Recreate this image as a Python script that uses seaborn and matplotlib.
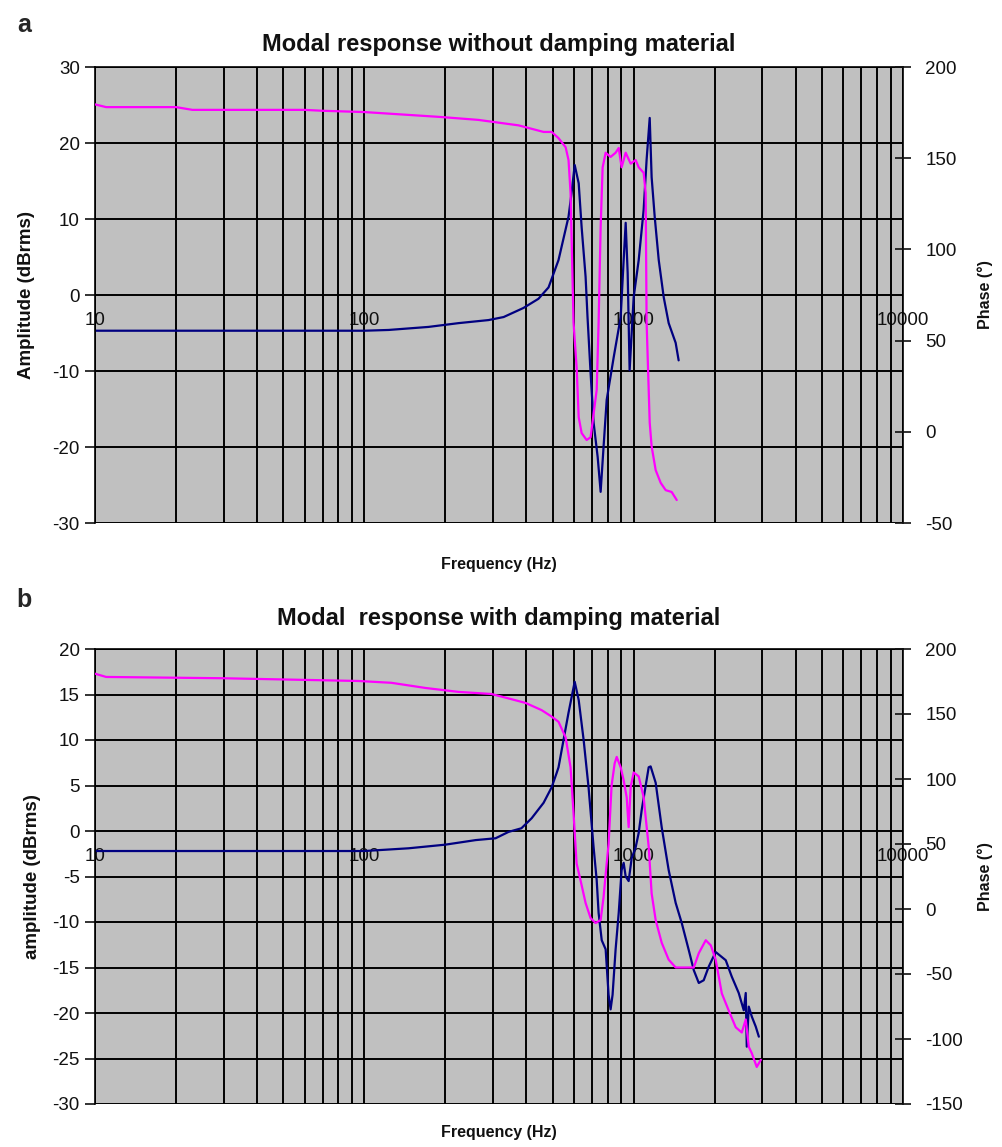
import matplotlib
matplotlib.use("Agg")
import matplotlib.pyplot as plt
import seaborn as sns
from matplotlib.ticker import LogLocator, FixedLocator, NullFormatter

sns.set_style("white")
plt.rcParams["font.family"] = ["Liberation Sans", "DejaVu Sans"]
plt.rcParams["axes.unicode_minus"] = False

# ---------------- panel a: without damping material ----------------
a_amp_freq = [10, 20, 50, 100, 123, 173, 224, 289, 329, 390, 443, 483, 526, 573, 588,
              604, 625, 641, 663, 674, 692, 710, 735, 754, 773, 794, 843, 895, 918,
              934, 950, 966, 1000, 1044, 1089, 1117, 1147, 1166, 1197, 1239, 1293,
              1349, 1432, 1469]
a_amp = [-4.7, -4.7, -4.7, -4.7, -4.6, -4.2, -3.7, -3.3, -2.9, -1.7, -0.5, 1.0, 4.6,
         10.3, 13.4, 17.1, 14.7, 8.9, 2.4, -2.9, -10.3, -16.8, -21.3, -25.9, -20.0,
         -13.8, -8.2, -2.9, 4.6, 9.5, 2.9, -9.9, -0.3, 4.6, 11.2, 17.8, 23.3, 15.5,
         10.3, 4.6, -0.3, -3.7, -6.3, -8.6]

a_ph_freq = [10, 11, 20, 23, 60, 70, 100, 192, 265, 374, 463, 496, 526, 559, 573, 583,
             598, 614, 625, 641, 669, 692, 729, 741, 754, 767, 787, 821, 857, 880, 902,
             934, 975, 1017, 1044, 1089, 1108, 1117, 1147, 1166, 1207, 1260, 1315,
             1384, 1445]
a_phase = [179.5, 178.0, 178.0, 176.5, 176.5, 176.0, 175.3, 172.6, 171.0, 168.0,
           164.4, 164.4, 161.0, 156.0, 149.0, 131.0, 60.0, 35.5, 8.0, -0.7, -4.5,
           -3.0, 23.0, 60.0, 112.0, 145.0, 153.0, 150.7, 153.0, 155.6, 145.0, 153.0,
           147.0, 149.0, 145.0, 142.0, 131.0, 60.0, 5.0, -8.0, -21.0, -28.0, -32.0,
           -33.0, -37.4]

# ---------------- panel b: with damping material ----------------
b_amp_freq = [10, 50, 100, 146, 200, 259, 307, 343, 383, 418, 463, 496, 518, 526, 573,
              604, 625, 652, 680, 710, 729, 741, 761, 787, 807, 821, 835, 857, 880,
              902, 918, 934, 958, 983, 1017, 1044, 1071, 1137, 1156, 1207, 1271, 1349,
              1432, 1508, 1602, 1672, 1745, 1820, 1900, 2016, 2197, 2313, 2455, 2563,
              2607, 2630, 2675, 2746, 2840, 2916]
b_amp = [-2.2, -2.2, -2.2, -1.9, -1.5, -1.0, -0.8, -0.1, 0.3, 1.4, 3.1, 4.8, 6.4, 7.0,
         13.0, 16.4, 14.4, 10.0, 4.8, -1.8, -5.4, -9.0, -12.0, -13.0, -18.0, -19.6,
         -18.0, -13.0, -9.0, -4.3, -3.5, -5.0, -5.5, -3.0, -1.8, -0.2, 2.3, 7.0, 7.1,
         5.3, 0.4, -4.3, -7.9, -10.1, -13.1, -15.3, -16.7, -16.4, -14.9, -13.3, -14.2,
         -16.0, -17.8, -19.7, -17.8, -23.7, -19.3, -20.4, -21.5, -22.6]

b_ph_freq = [10, 11, 30, 95, 126, 169, 224, 296, 343, 397, 455, 496, 526, 559, 583,
             598, 614, 635, 663, 692, 722, 754, 773, 794, 807, 828, 850, 865, 895, 918,
             942, 958, 975, 1000, 1044, 1089, 1137, 1166, 1207, 1271, 1349, 1432, 1602,
             1672, 1745, 1852, 1934, 2016, 2125, 2253, 2393, 2520, 2607, 2675, 2746,
             2864, 2967]
b_phase = [181.0, 178.5, 177.5, 175.4, 174.0, 170.0, 167.0, 165.4, 162.0, 158.5, 153.0,
           148.0, 144.0, 132.0, 109.0, 74.0, 35.0, 22.0, 4.6, -7.0, -10.8, -8.5, 9.0,
           35.0, 50.0, 95.0, 112.0, 117.0, 109.0, 99.0, 86.0, 63.0, 94.0, 105.0, 102.0,
           86.0, 48.0, 12.0, -8.5, -26.0, -39.0, -45.0, -45.0, -45.0, -34.0, -24.0,
           -28.0, -39.0, -65.0, -78.0, -91.0, -95.0, -85.0, -106.0, -111.0, -121.5,
           -116.0]

freq_ticks = [10, 100, 1000, 10000]
freq_labels = ["10", "100", "1000", "10000"]

AMP_COLOR = "#000080"
PHASE_COLOR = "#FF00FF"
PLOT_BG = "#C0C0C0"
TEXT_COLOR = "#111111"
W, H = 1003, 1147

fig = plt.figure(figsize=(W / 100, H / 100), dpi=100)


def draw_panel(rect, amp_f, amp, ph_f, ph, amp_lim, amp_step, ph_lim, ph_step,
               ylabel, ylabel_x):
    ax = fig.add_axes(rect)
    ax.set_facecolor(PLOT_BG)
    ax.set_xscale("log")
    ax.set_xlim(10, 10000)
    ax.set_ylim(*amp_lim)
    ax.set_yticks(list(range(amp_lim[0], amp_lim[1] + 1, amp_step)))

    ax.xaxis.set_major_locator(FixedLocator(freq_ticks))
    ax.set_xticklabels(freq_labels)
    ax.xaxis.set_minor_locator(LogLocator(base=10, subs=range(2, 10)))
    ax.xaxis.set_minor_formatter(NullFormatter())
    ax.grid(True, which="both", axis="x", color="black", linewidth=1.4)
    ax.grid(True, which="major", axis="y", color="black", linewidth=1.4)
    ax.set_axisbelow(True)

    # category axis crosses at zero, labels sit just under that line
    ax.spines["bottom"].set_position(("data", 0))
    ax.spines["bottom"].set_visible(False)
    for side in ("left", "right", "top"):
        ax.spines[side].set_color("black")
        ax.spines[side].set_linewidth(1.2)
    ax.tick_params(axis="x", which="both", length=0, pad=12, labelsize=13.5,
                   colors=TEXT_COLOR)
    ax.tick_params(axis="y", direction="out", length=7, width=1.2, pad=4,
                   labelsize=13.5, colors=TEXT_COLOR)

    sns.lineplot(x=amp_f, y=amp, ax=ax, color=AMP_COLOR, linewidth=1.6,
                 estimator=None, sort=False, legend=False)

    ax2 = ax.twinx()
    ax2.set_ylim(*ph_lim)
    ax2.set_yticks(list(range(ph_lim[0], ph_lim[1] + 1, ph_step)))
    ax2.tick_params(axis="y", direction="inout", length=12, width=1.2, pad=10,
                    labelsize=13.5, colors=TEXT_COLOR)
    for side in ("left", "right", "top", "bottom"):
        ax2.spines[side].set_visible(False)
    sns.lineplot(x=ph_f, y=ph, ax=ax2, color=PHASE_COLOR, linewidth=1.6,
                 estimator=None, sort=False, legend=False)

    ax2.set_ylabel("Phase (°)", fontsize=11.5, fontweight="bold", color=TEXT_COLOR)
    ax2.yaxis.set_label_coords((977 - rect[0] * W) / (rect[2] * W), 0.5)
    ax.set_ylabel(ylabel, fontsize=13.5, fontweight="bold", color=TEXT_COLOR)
    ax.yaxis.set_label_coords((ylabel_x - rect[0] * W) / (rect[2] * W), 0.5)
    ax.set_xlabel("")
    return ax, ax2


draw_panel([95 / W, 1 - 523 / H, 808 / W, 456 / H],
           a_amp_freq, a_amp, a_ph_freq, a_phase,
           (-30, 30), 10, (-50, 200), 50, "Amplitude (dBrms)", 35)
draw_panel([95 / W, 1 - 1104 / H, 808 / W, 455 / H],
           b_amp_freq, b_amp, b_ph_freq, b_phase,
           (-30, 20), 5, (-150, 200), 50, "amplitude (dBrms)", 41)

fig.text(499 / W, 1 - 45 / H, "Modal response without damping material",
         ha="center", va="center", fontsize=17, fontweight="bold", color=TEXT_COLOR)
fig.text(499 / W, 1 - 619 / H, "Modal  response with damping material",
         ha="center", va="center", fontsize=17, fontweight="bold", color=TEXT_COLOR)
fig.text(499 / W, 1 - 565 / H, "Frequency (Hz)", ha="center", va="center",
         fontsize=11.5, fontweight="bold", color=TEXT_COLOR)
fig.text(499 / W, 1 - 1133 / H, "Frequency (Hz)", ha="center", va="center",
         fontsize=11.5, fontweight="bold", color=TEXT_COLOR)
fig.text(24 / W, 1 - 25 / H, "a", ha="center", va="center", fontsize=18,
         fontweight="bold")
fig.text(24 / W, 1 - 600 / H, "b", ha="center", va="center", fontsize=18,
         fontweight="bold")

fig.savefig("out.png", dpi=100, facecolor="white")
